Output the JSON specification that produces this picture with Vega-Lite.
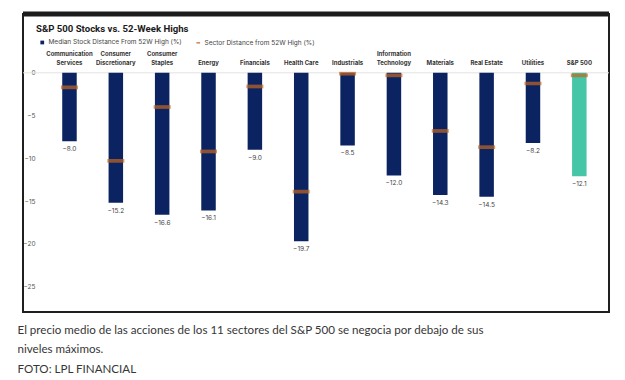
{
  "$schema": "https://vega.github.io/schema/vega-lite/v6.json",
  "padding": {"left": 17, "top": 10, "right": 5, "bottom": 5},
  "background": "white",
  "title": {
    "text": ["El precio medio de las acciones de los 11 sectores del S&P 500 se negocia por debajo de sus", "niveles máximos."],
    "subtitle": "FOTO: LPL FINANCIAL",
    "orient": "bottom",
    "anchor": "start",
    "font": "Lato",
    "fontSize": 11.6,
    "fontWeight": "normal",
    "color": "#363636",
    "lineHeight": 19,
    "subtitleFont": "Lato",
    "subtitleFontSize": 11.6,
    "subtitleColor": "#363636",
    "subtitlePadding": 8,
    "subtitleLineHeight": 19,
    "offset": 12,
    "dx": -2
  },
  "vconcat": [
    {
      "width": 586,
      "height": 298,
      "title": {
        "text": "S&P 500 Stocks vs. 52-Week Highs",
        "frame": "group",
        "anchor": "start",
        "dx": 13,
        "offset": -22,
        "font": "Roboto",
        "fontSize": 9.6,
        "fontWeight": "bold",
        "color": "#1a1a1a"
      },
      "data": {
        "values": [
          {"sector": "Communication|Services", "median": -8.0, "sector_dist": -1.7, "series": "Median Stock Distance From 52W High (%)"},
          {"sector": "Consumer|Discretionary", "median": -15.2, "sector_dist": -10.3, "series": "Median Stock Distance From 52W High (%)"},
          {"sector": "Consumer|Staples", "median": -16.6, "sector_dist": -4.0, "series": "Median Stock Distance From 52W High (%)"},
          {"sector": "Energy", "median": -16.1, "sector_dist": -9.2, "series": "Median Stock Distance From 52W High (%)"},
          {"sector": "Financials", "median": -9.0, "sector_dist": -1.6, "series": "Median Stock Distance From 52W High (%)"},
          {"sector": "Health Care", "median": -19.7, "sector_dist": -13.9, "series": "Median Stock Distance From 52W High (%)"},
          {"sector": "Industrials", "median": -8.5, "sector_dist": -0.1, "series": "Median Stock Distance From 52W High (%)"},
          {"sector": "Information|Technology", "median": -12.0, "sector_dist": -0.3, "series": "Median Stock Distance From 52W High (%)"},
          {"sector": "Materials", "median": -14.3, "sector_dist": -6.8, "series": "Median Stock Distance From 52W High (%)"},
          {"sector": "Real Estate", "median": -14.5, "sector_dist": -8.7, "series": "Median Stock Distance From 52W High (%)"},
          {"sector": "Utilities", "median": -8.2, "sector_dist": -1.25, "series": "Median Stock Distance From 52W High (%)"},
          {"sector": "S&P 500", "median": -12.1, "sector_dist": -0.3, "series": "S&P 500"}
        ]
      },
      "encoding": {
        "x": {
          "field": "sector",
          "type": "nominal",
          "sort": null,
          "scale": {"range": [23.3, 579.5], "paddingInner": 0, "paddingOuter": 0},
          "axis": {
            "orient": "top",
            "title": null,
            "labelAngle": 0,
            "domain": false,
            "ticks": false,
            "labelPadding": 0,
            "offset": -42,
            "labelOverlap": false,
            "labelBound": false,
            "labelFlush": false,
            "labelExpr": "indexof(datum.label, '|') < 0 ? ['', datum.label] : split(datum.label, '|')",
            "labelFont": "Inter",
            "labelFontSize": 6,
            "labelFontWeight": "bold",
            "labelColor": "#333333",
            "labelLineHeight": 9
          }
        }
      },
      "layer": [
        {
          "data": {"values": [{}]},
          "mark": {"type": "rule", "color": "#e2e2e2", "strokeWidth": 1},
          "encoding": {
            "x": null,
            "y": {
              "datum": 0,
              "type": "quantitative",
              "scale": {"domain": [-27.98, 6.88], "nice": false, "zero": false},
              "axis": {
                "values": [0, -5, -10, -15, -20, -25],
                "title": null,
                "domain": false,
                "ticks": false,
                "grid": false,
                "offset": -14,
                "labelPadding": 2,
                "labelFont": "Inter",
                "labelFontSize": 6.5,
                "labelColor": "#555555"
              }
            }
          }
        },
        {
          "mark": {"type": "bar", "size": 14.5},
          "encoding": {
            "y": {"field": "median", "type": "quantitative"},
            "y2": {"datum": 0},
            "color": {
              "field": "series",
              "type": "nominal",
              "scale": {
                "domain": ["Median Stock Distance From 52W High (%)", "Sector Distance from 52W High (%)", "S&P 500"],
                "range": ["#0b2461", "#c4661f", "#45c7a7"]
              },
              "legend": {
                "orient": "none",
                "legendX": 16,
                "legendY": 25,
                "direction": "horizontal",
                "title": null,
                "values": ["Median Stock Distance From 52W High (%)", "Sector Distance from 52W High (%)"],
                "labelFont": "Inter",
                "labelFontSize": 6.5,
                "labelColor": "#444444",
                "symbolSize": 14,
                "symbolType": "square",
                "columnPadding": 11,
                "labelOffset": 3,
                "encode": {
                  "symbols": {
                    "update": {
                      "shape": {"signal": "datum.value === 'Sector Distance from 52W High (%)' ? 'stroke' : 'square'"},
                      "stroke": {"signal": "datum.value === 'Sector Distance from 52W High (%)' ? '#c4661f' : 'transparent'"},
                      "strokeWidth": {"value": 1.2}
                    }
                  }
                }
              }
            }
          }
        },
        {
          "mark": {"type": "tick", "thickness": 3.7, "size": 17},
          "encoding": {
            "y": {"field": "sector_dist", "type": "quantitative"},
            "color": {"datum": "Sector Distance from 52W High (%)"}
          }
        },
        {
          "mark": {"type": "text", "baseline": "top", "dy": 5, "fontSize": 6.5, "font": "Inter", "color": "#444444"},
          "encoding": {
            "y": {"field": "median", "type": "quantitative"},
            "text": {"field": "median", "type": "quantitative", "format": ".1f"}
          }
        },
        {
          "data": {"values": [{}]},
          "mark": {"type": "rule", "color": "#1c1c1c", "strokeWidth": 5},
          "encoding": {
            "x": null,
            "y": {"datum": 6.88, "type": "quantitative"}
          }
        }
      ]
    }
  ],
  "config": {
    "view": {"stroke": "#1f1f1f", "strokeWidth": 2},
    "axis": {"grid": false}
  }
}
